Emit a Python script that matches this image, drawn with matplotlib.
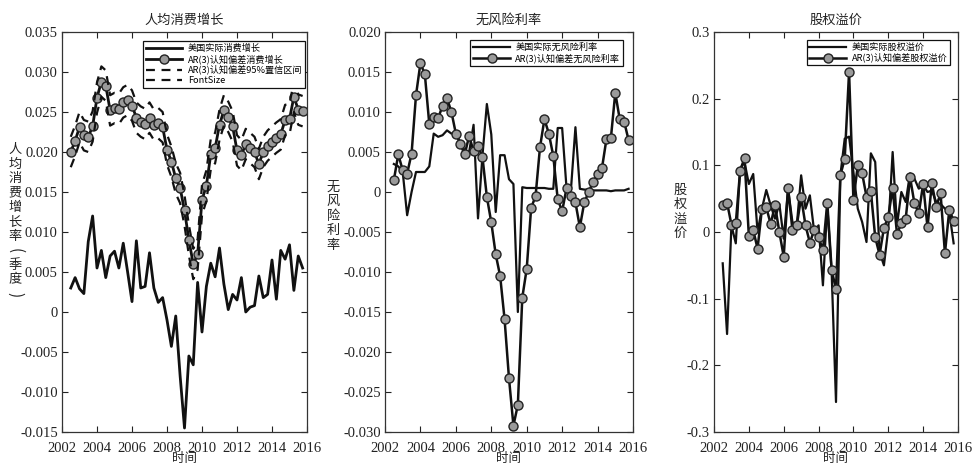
import matplotlib
matplotlib.use('Agg')
import matplotlib.pyplot as plt
from matplotlib.ticker import FixedLocator, FuncFormatter
import numpy as np

plt.rcParams['axes.unicode_minus'] = False

CJK = 'Noto Sans CJK SC'
SERIF = 'Liberation Serif'

# quarterly dates
dates = 2002.5 + 0.25 * np.arange(54)

# ---------------- panel 1: consumption growth ----------------
cons_actual = [0.0030, 0.0043, 0.0029, 0.0023, 0.0088, 0.0120, 0.0055, 0.0077, 0.0043, 0.0070,
               0.0076, 0.0055, 0.0086, 0.0050, 0.0013, 0.0089, 0.0030, 0.0032, 0.0074, 0.0030,
               0.0012, 0.0018, -0.0010, -0.0043, -0.0005, -0.0080, -0.0145, -0.0055, -0.0066, 0.0037,
               -0.0025, 0.0032, 0.0061, 0.0044, 0.0080, 0.0035, 0.0003, 0.0022, 0.0015, 0.0043,
               0.0000, 0.0006, 0.0008, 0.0045, 0.0018, 0.0022, 0.0065, 0.0016, 0.0077, 0.0066,
               0.0084, 0.0027, 0.0070, 0.0055]
cons_ar3 = [0.0200, 0.0214, 0.0231, 0.0221, 0.0219, 0.0232, 0.0268, 0.0288, 0.0283, 0.0252,
            0.0255, 0.0254, 0.0262, 0.0265, 0.0258, 0.0243, 0.0238, 0.0235, 0.0243, 0.0234,
            0.0236, 0.0231, 0.0203, 0.0188, 0.0167, 0.0155, 0.0127, 0.0090, 0.0060, 0.0072,
            0.0140, 0.0158, 0.0197, 0.0205, 0.0234, 0.0252, 0.0244, 0.0232, 0.0202, 0.0196,
            0.0210, 0.0205, 0.0200, 0.0185, 0.0200, 0.0208, 0.0213, 0.0218, 0.0222, 0.0240,
            0.0241, 0.0269, 0.0253, 0.0251]
cons_upper = [0.0219, 0.0233, 0.0250, 0.0240, 0.0238, 0.0251, 0.0287, 0.0307, 0.0302, 0.0271,
              0.0274, 0.0273, 0.0281, 0.0284, 0.0277, 0.0262, 0.0257, 0.0254, 0.0262, 0.0253,
              0.0255, 0.0250, 0.0222, 0.0207, 0.0186, 0.0174, 0.0146, 0.0109, 0.0079, 0.0091,
              0.0159, 0.0177, 0.0216, 0.0224, 0.0253, 0.0271, 0.0263, 0.0251, 0.0221, 0.0215,
              0.0229, 0.0224, 0.0219, 0.0204, 0.0219, 0.0227, 0.0232, 0.0237, 0.0241, 0.0259,
              0.0260, 0.0288, 0.0272, 0.0270]
cons_lower = [0.0181, 0.0195, 0.0212, 0.0202, 0.0200, 0.0213, 0.0249, 0.0269, 0.0264, 0.0233,
              0.0236, 0.0235, 0.0243, 0.0246, 0.0239, 0.0224, 0.0219, 0.0216, 0.0224, 0.0215,
              0.0217, 0.0212, 0.0184, 0.0169, 0.0148, 0.0136, 0.0108, 0.0071, 0.0041, 0.0053,
              0.0121, 0.0139, 0.0178, 0.0186, 0.0215, 0.0233, 0.0225, 0.0213, 0.0183, 0.0177,
              0.0191, 0.0186, 0.0181, 0.0166, 0.0181, 0.0189, 0.0194, 0.0199, 0.0203, 0.0221,
              0.0222, 0.0250, 0.0234, 0.0232]

# ---------------- panel 2: risk-free rate ----------------
rf_actual = [0.0035, 0.0032, 0.0025, -0.0029, 0.0000, 0.0025, 0.0025, 0.0025, 0.0032, 0.0073,
             0.0069, 0.0071, 0.0077, 0.0073, 0.0074, 0.0062, 0.0052, 0.0050, 0.0084, -0.0033,
             0.0045, 0.0110, 0.0072, -0.0025, 0.0046, 0.0046, 0.0016, 0.0010, -0.0150, 0.0006,
             0.0005, 0.0005, 0.0005, 0.0005, 0.0005, 0.0004, 0.0004, 0.0080, 0.0080, 0.0004,
             0.0004, 0.0081, 0.0004, 0.0003, 0.0003, 0.0002, 0.0002, 0.0002, 0.0002, 0.0001,
             0.0002, 0.0002, 0.0002, 0.0004]
rf_ar3 = [0.0015, 0.0047, 0.0027, 0.0023, 0.0048, 0.0121, 0.0161, 0.0147, 0.0085, 0.0094,
          0.0092, 0.0108, 0.0117, 0.0100, 0.0073, 0.0060, 0.0047, 0.0070, 0.0051, 0.0058,
          0.0044, -0.0006, -0.0038, -0.0078, -0.0105, -0.0159, -0.0233, -0.0292, -0.0266, -0.0132,
          -0.0096, -0.0020, -0.0005, 0.0056, 0.0091, 0.0073, 0.0045, -0.0009, -0.0024, 0.0005,
          -0.0005, -0.0013, -0.0044, -0.0013, 0.0000, 0.0013, 0.0022, 0.0030, 0.0066, 0.0067,
          0.0124, 0.0091, 0.0088, 0.0065]

# ---------------- panel 3: equity premium ----------------
ep_actual = [-0.047, -0.153, 0.010, -0.017, 0.095, 0.105, 0.072, 0.087, 0.000, 0.035,
             0.063, 0.040, 0.020, 0.042, -0.010, 0.065, 0.015, 0.010, 0.085, 0.035,
             0.055, 0.000, 0.010, -0.080, 0.040, -0.060, -0.255, 0.085, 0.140, 0.143,
             0.090, 0.035, 0.015, -0.015, 0.118, 0.105, -0.030, -0.050, 0.005, 0.120,
             0.010, 0.060, 0.045, 0.088, 0.080, 0.065, 0.070, 0.060, 0.062, 0.045,
             0.042, 0.035, 0.030, -0.017]
ep_ar3 = [0.041, 0.044, 0.011, 0.013, 0.092, 0.111, -0.006, 0.003, -0.025, 0.035,
          0.037, 0.012, 0.040, 0.000, -0.037, 0.066, 0.003, 0.010, 0.052, 0.010,
          -0.016, 0.003, -0.008, -0.027, 0.044, -0.057, -0.086, 0.085, 0.110, 0.240,
          0.048, 0.100, 0.088, 0.053, 0.061, -0.008, -0.034, 0.006, 0.023, 0.066,
          -0.003, 0.013, 0.020, 0.082, 0.043, 0.028, 0.072, 0.007, 0.073, 0.038,
          0.058, -0.032, 0.033, 0.017]

titles = ['人均消费增长', '无风险利率', '股权溢价']
ylabels = ['人均消费增长率(季度)', '无风险利率', '股权溢价']
xlabel = '时间'
xticks = [2002, 2004, 2006, 2008, 2010, 2012, 2014, 2016]
yticks1 = [0.035, 0.030, 0.025, 0.020, 0.015, 0.010, 0.005, 0.0, -0.005, -0.010, -0.015]
yticks2 = [0.020, 0.015, 0.010, 0.005, 0.0, -0.005, -0.010, -0.015, -0.020, -0.025, -0.030]
yticks3 = [0.3, 0.2, 0.1, 0.0, -0.1, -0.2, -0.3]

leg1 = ['美国实际消费增长', 'AR(3)认知偏差消费增长', 'AR(3)认知偏差95%置信区间', 'FontSize']
leg2 = ['美国实际无风险利率', 'AR(3)认知偏差无风险利率']
leg3 = ['美国实际股权溢价', 'AR(3)认知偏差股权溢价']

W, H = 973, 463
fig = plt.figure(figsize=(W / 100, H / 100), dpi=100)

def px_axes(x0, x1, ytop, ybot):
    return fig.add_axes([x0 / W, 1 - ybot / H, (x1 - x0) / W, (ybot - ytop) / H])

ax1 = px_axes(62, 307, 32, 432)
ax2 = px_axes(385, 633, 32, 432)
ax3 = px_axes(714, 958, 32, 432)

LC = '#111111'
mk = dict(marker='o', markersize=6.5, markerfacecolor='#9a9a9a', markeredgecolor='#222222',
          markeredgewidth=1.0)

# panel 1
ax1.plot(dates, cons_actual, color=LC, lw=2.0, label=leg1[0])
ax1.plot(dates, cons_ar3, color=LC, lw=2.0, label=leg1[1], **mk)
ax1.plot(dates, cons_upper, color=LC, lw=1.6, ls=(0, (4, 3)), label=leg1[2])
ax1.plot(dates, cons_lower, color=LC, lw=1.6, ls=(0, (4, 3)), label=leg1[3])
ax1.set_ylim(-0.015, 0.035)

# panel 2
ax2.plot(dates, rf_actual, color=LC, lw=1.6, label=leg2[0])
ax2.plot(dates, rf_ar3, color=LC, lw=1.8, label=leg2[1], **mk)
ax2.set_ylim(-0.030, 0.020)

# panel 3
ax3.plot(dates, ep_actual, color=LC, lw=1.6, label=leg3[0])
ax3.plot(dates, ep_ar3, color=LC, lw=1.8, label=leg3[1], **mk)
ax3.set_ylim(-0.3, 0.3)

def fmt3(v, pos):
    return '0' if abs(v) < 1e-12 else f'{v:.3f}'

def fmt1(v, pos):
    return '0' if abs(v) < 1e-12 else f'{v:.1f}'

for ax, yt, fmt in [(ax1, yticks1, fmt3), (ax2, yticks2, fmt3), (ax3, yticks3, fmt1)]:
    ax.set_xlim(2002, 2016)
    ax.xaxis.set_major_locator(FixedLocator(xticks))
    ax.yaxis.set_major_locator(FixedLocator(yt))
    ax.yaxis.set_major_formatter(FuncFormatter(fmt))
    ax.tick_params(direction='in', top=True, right=True, length=4, width=0.8,
                   labelsize=10.5, colors='#222222')
    ax.tick_params(axis='x', pad=7)
    ax.tick_params(axis='y', pad=3)
    for lab in ax.get_xticklabels() + ax.get_yticklabels():
        lab.set_fontfamily(SERIF)
    for s in ax.spines.values():
        s.set_linewidth(0.9)
        s.set_color('#333333')

# titles, x labels
for ax, t in zip([ax1, ax2, ax3], titles):
    ax.set_title(t, fontfamily=CJK, fontsize=9.5, pad=6, color='#222222')
    ax.set_xlabel(xlabel, fontfamily=CJK, fontsize=9, labelpad=-2, color='#222222')

# stacked vertical y labels (one character per line, brackets turned upright)
STEP = 14.5
for (xp, yc), lab in zip([(15, 222), (333, 216), (680, 212)], ylabels):
    n = len(lab)
    y0 = yc - STEP * (n - 1) / 2
    for k, ch in enumerate(lab):
        rot = -90 if ch in '()' else 0
        fs = 11 if ch in '()' else 9.5
        fig.text(xp / W, 1 - (y0 + k * STEP) / H, ch, fontfamily=CJK, fontsize=fs,
                 ha='center', va='center', rotation=rot, rotation_mode='anchor',
                 color='#222222')

# legends
legkw = dict(loc='upper right', prop={'family': CJK, 'size': 6.6}, frameon=True,
             fancybox=False, edgecolor='#111111', framealpha=1, handlelength=4.0,
             borderpad=0.3, labelspacing=0.12, handletextpad=0.6, borderaxespad=0)
l1 = ax1.legend(bbox_to_anchor=(305 / W, 1 - 41 / H), bbox_transform=fig.transFigure, **legkw)
l2 = ax2.legend(bbox_to_anchor=(623 / W, 1 - 40 / H), bbox_transform=fig.transFigure, **legkw)
l3 = ax3.legend(bbox_to_anchor=(950 / W, 1 - 40 / H), bbox_transform=fig.transFigure, **legkw)
for l in (l1, l2, l3):
    l.get_frame().set_linewidth(0.9)

fig.savefig('out.png', dpi=100)
